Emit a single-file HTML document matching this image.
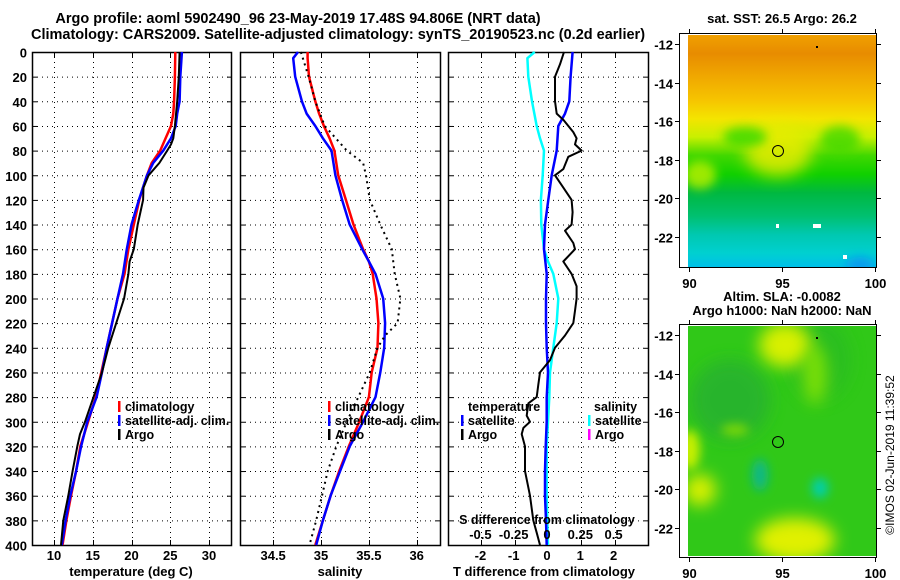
<!DOCTYPE html>
<html><head><meta charset="utf-8">
<style>
html,body{margin:0;padding:0;background:#fff;}
svg{display:block;font-family:"Liberation Sans",sans-serif;font-weight:bold;}
text{fill:#000;}
</style></head>
<body>
<svg id="fig" width="900" height="580" viewBox="0 0 900 580" xmlns="http://www.w3.org/2000/svg">
<defs>
<linearGradient id="sstGrad" x1="0" y1="0" x2="0" y2="1">
<stop offset="0" stop-color="#f0a000"/>
<stop offset="0.08" stop-color="#e88c00"/>
<stop offset="0.18" stop-color="#f0a800"/>
<stop offset="0.28" stop-color="#f6c400"/>
<stop offset="0.36" stop-color="#f4e400"/>
<stop offset="0.44" stop-color="#c8f000"/>
<stop offset="0.52" stop-color="#40d800"/>
<stop offset="0.60" stop-color="#10d000"/>
<stop offset="0.68" stop-color="#00b840"/>
<stop offset="0.78" stop-color="#00c070"/>
<stop offset="0.86" stop-color="#00c8b0"/>
<stop offset="0.94" stop-color="#00d0d0"/>
<stop offset="1" stop-color="#00c0e8"/>
</linearGradient>
<filter id="blur6" x="-100%" y="-100%" width="300%" height="300%"><feGaussianBlur stdDeviation="8"/></filter>
<filter id="blur4" x="-100%" y="-100%" width="300%" height="300%"><feGaussianBlur stdDeviation="5"/></filter>
<clipPath id="clipTop"><rect x="688" y="35" width="188" height="232"/></clipPath>
<clipPath id="clipBot"><rect x="688" y="326" width="188" height="230"/></clipPath>
</defs>

<text x="298" y="23" font-size="14.5" text-anchor="middle">Argo profile: aoml 5902490_96 23-May-2019 17.48S 94.806E (NRT data)</text>
<text x="338" y="39" font-size="14.5" text-anchor="middle">Climatology: CARS2009. Satellite-adjusted climatology: synTS_20190523.nc (0.2d earlier)</text>

<g id="p1"></g>
<g id="p2"></g>
<g id="p3"></g>

<!-- SST map -->
<g>
<text x="782" y="23" font-size="13" text-anchor="middle">sat. SST: 26.5 Argo: 26.2</text>
<g clip-path="url(#clipTop)">
<rect x="688" y="35" width="188" height="232" fill="url(#sstGrad)"/>
<ellipse cx="778" cy="150" rx="34" ry="26" fill="#e8ec00" filter="url(#blur6)" opacity="0.85"/>
<ellipse cx="700" cy="175" rx="16" ry="14" fill="#c0f000" filter="url(#blur4)" opacity="0.8"/>
<ellipse cx="745" cy="137" rx="22" ry="10" fill="#30d800" filter="url(#blur4)" opacity="0.8"/>
<ellipse cx="840" cy="140" rx="20" ry="14" fill="#40d800" filter="url(#blur4)" opacity="0.8"/>
<ellipse cx="860" cy="265" rx="14" ry="8" fill="#1090f0" filter="url(#blur4)" opacity="0.8"/>
<rect x="776" y="224" width="3" height="4" fill="#fff"/>
<rect x="813" y="224" width="8" height="4" fill="#fff"/>
<rect x="843" y="255" width="4" height="4" fill="#fff"/>
<rect x="816" y="46" width="2" height="2" fill="#000"/>
</g>
<circle cx="778" cy="151" r="5.5" fill="none" stroke="#000" stroke-width="1"/>
<rect x="679.5" y="33.5" width="197" height="234" fill="none" stroke="#000" stroke-width="1"/>
<g id="sstAxes"></g>
</g>

<!-- SLA map -->
<g>
<text x="782" y="301" font-size="13" text-anchor="middle">Altim. SLA: -0.0082</text>
<text x="782" y="315" font-size="13" text-anchor="middle">Argo h1000: NaN h2000: NaN</text>
<g clip-path="url(#clipBot)">
<rect x="688" y="326" width="188" height="230" fill="#30c818"/>
<ellipse cx="730" cy="400" rx="40" ry="40" fill="#28b030" filter="url(#blur6)" opacity="0.8"/>
<ellipse cx="820" cy="360" rx="30" ry="40" fill="#28b828" filter="url(#blur6)" opacity="0.6"/>
<ellipse cx="785" cy="345" rx="26" ry="22" fill="#d8f000" filter="url(#blur6)"/>
<ellipse cx="815" cy="375" rx="12" ry="30" fill="#90e800" filter="url(#blur6)" opacity="0.8"/>
<ellipse cx="795" cy="540" rx="40" ry="22" fill="#e0f000" filter="url(#blur6)"/>
<ellipse cx="700" cy="490" rx="16" ry="16" fill="#d8f000" filter="url(#blur6)"/>
<ellipse cx="690" cy="450" rx="10" ry="20" fill="#c8f000" filter="url(#blur4)"/>
<ellipse cx="760" cy="475" rx="8" ry="16" fill="#10b888" filter="url(#blur4)"/>
<ellipse cx="820" cy="488" rx="8" ry="10" fill="#00d0b0" filter="url(#blur4)"/>
<ellipse cx="735" cy="430" rx="14" ry="6" fill="#90e000" filter="url(#blur4)" opacity="0.8"/>
<rect x="816" y="337" width="2" height="2" fill="#000"/>
</g>
<circle cx="778" cy="442" r="5.5" fill="none" stroke="#000" stroke-width="1"/>
<rect x="679.5" y="324.5" width="197" height="233" fill="none" stroke="#000" stroke-width="1"/>
<g id="slaAxes"></g>
</g>

<text transform="translate(894,455) rotate(-90)" font-size="12" font-weight="normal" text-anchor="middle">©IMOS 02-Jun-2019 11:39:52</text>
</svg>

<script>
// ---- data ----
var tempDepth = [0,20,40,50,60,70,80,90,100,120,140,160,180,200,240,260,280,300,320,340,360,380,400];
var tempClim  = [25.65,25.6,25.5,25.4,25.1,24.4,23.7,22.6,22.0,21.0,20.3,19.6,19.1,18.2,16.8,16.1,15.4,14.4,13.4,12.85,12.2,11.6,11.1];
var tempSat   = [26.5,26.3,26.2,25.9,25.7,25.1,24.1,22.8,22.0,20.95,20.0,19.4,18.9,18.2,16.8,16.2,15.5,14.3,13.5,12.85,12.1,11.5,11.0];
var argoDepthT= [0,20,40,60,70,75,80,90,100,110,120,140,160,170,180,200,240,260,280,300,310,320,340,360,380,400];
var tempArgo  = [26.2,26.1,25.9,25.6,25.4,25.1,24.6,23.6,22.2,21.55,21.5,20.8,20.3,19.75,19.6,19.05,17.0,16.2,15.1,14.0,13.36,13.0,12.4,11.85,11.2,10.9];

var salDepth  = [0,5,20,40,50,60,70,80,100,120,140,160,170,180,200,220,240,260,280,300,320,340,360,380,400];
var salClim   = [34.86,34.86,34.875,34.94,34.98,35.03,35.09,35.14,35.18,35.26,35.34,35.44,35.50,35.54,35.58,35.6,35.59,35.53,35.5,35.4,35.29,35.19,35.1,35.02,34.94];
var salSat    = [34.76,34.71,34.73,34.8,34.85,34.94,35.02,35.11,35.15,35.22,35.3,35.43,35.5,35.57,35.65,35.67,35.66,35.62,35.57,35.44,35.3,35.2,35.1,35.02,34.95];
var argoDepthS= [0,20,40,60,80,90,100,120,140,160,180,200,220,230,240,260,280,300,320,340,360,380,400];
var salArgo   = [34.79,34.87,34.94,35.04,35.27,35.44,35.47,35.51,35.62,35.74,35.77,35.83,35.8,35.67,35.59,35.51,35.39,35.27,35.16,35.07,35.01,34.95,34.88];

var diffDepth = [0,20,40,50,60,80,100,120,140,160,180,200,220,240,260,280,300,320,340,360,380,400];
var tDiffSat  = [0.74,0.68,0.64,0.51,0.31,0.26,0.11,0.01,-0.09,-0.12,-0.04,-0.06,-0.06,-0.04,0,-0.04,-0.04,-0.07,-0.09,-0.09,-0.06,-0.04];
var sDiffDepth= [0,5,20,40,60,70,80,100,120,140,160,170,180,200,220,240,260,280,300,320,340,360,380,400];
var sDiffSat  = [-0.1,-0.155,-0.148,-0.12,-0.085,-0.06,-0.03,-0.04,-0.053,-0.05,-0.03,0,0.04,0.077,0.065,0.04,0.015,0.01,0,-0.01,-0.01,-0.01,-0.005,0];
var tDiffArgoDepth = [0,10,20,40,50,55,65,70,75,80,85,95,100,110,120,130,140,145,155,160,170,180,190,200,210,220,230,240,250,260,270,280,285,295,300,305,310,320,340,360,380,390,400];
var tDiffArgo = [0.48,0.36,0.21,0.21,0.26,0.46,0.76,0.86,0.81,1.01,0.61,0.46,0.21,0.46,0.71,0.74,0.71,0.51,0.76,0.81,0.46,0.71,0.86,0.86,0.81,0.76,0.51,0.21,0.06,-0.24,-0.29,-0.34,-0.59,-0.64,-0.54,-0.74,-0.79,-0.69,-0.69,-0.54,-0.44,-0.34,-0.24];

var depthTicks = [0,20,40,60,80,100,120,140,160,180,200,220,240,260,280,300,320,340,360,380,400];
var tempTicks = [10,15,20,25,30];
var salTicks = [34.5,35,35.5,36];
var salTickLabels = ["34.5","35","35.5","36"];
var tdTicks = [-2,-1,0,1,2];
var sdTicks = [-0.5,-0.25,0,0.25,0.5];
var sdTickLabels = ["-0.5","-0.25","0","0.25","0.5"];
var latTicks = [-12,-14,-16,-18,-20,-22];
var lonTicks = [90,95,100];

// ---- helpers ----
var NS="http://www.w3.org/2000/svg";
function mk(tag, attrs, parent){var e=document.createElementNS(NS,tag);for(var k in attrs)e.setAttribute(k,attrs[k]);parent.appendChild(e);return e;}
var TOP=52, BOT=545;
function yD(d){return TOP+d*(BOT-TOP)/400;}
function lin(d0,d1,r0,r1){return function(v){return r0+(v-d0)*(r1-r0)/(d1-d0);};}
var xT = lin(10,30,54,209);
var xS = lin(35,36,321,416.7);
var xTD = lin(0,1,548,581.3);
var xSD = lin(0,0.25,548,581.3);

function panel(g,x0,x1,vx,showY){
  for(var i=0;i<depthTicks.length;i++){
    var y=yD(depthTicks[i])+0.5;
    var l=mk('line',{x1:x0,x2:x1,y1:y,y2:y,stroke:'#000','stroke-width':1,'stroke-dasharray':'1,4'},g);
    
    
    mk('line',{x1:x0,x2:x0+5,y1:y,y2:y,stroke:'#000'},g);
    mk('line',{x1:x1-5,x2:x1,y1:y,y2:y,stroke:'#000'},g);
    if(showY){
      var t=mk('text',{x:27,y:y+5,'font-size':13,'text-anchor':'end'},g);
      
      
      t.textContent=depthTicks[i];
    }
  }
  for(var j=0;j<vx.length;j++){
    var x=Math.round(vx[j])+0.5;
    var v=mk('line',{x1:x,x2:x,y1:TOP,y2:BOT,stroke:'#000','stroke-width':1,'stroke-dasharray':'1,4'},g);
    
    
    mk('line',{x1:x,x2:x,y1:TOP,y2:TOP+5,stroke:'#000'},g);
    mk('line',{x1:x,x2:x,y1:BOT-5,y2:BOT,stroke:'#000'},g);
  }
  var f=mk('rect',{x:x0+0.5,y:TOP+0.5,width:x1-x0-1,height:BOT-TOP,fill:'none',stroke:'#000','stroke-width':1.5},g);
  
  
}
function series(g,xs,ds,fx,color,w,name,dash){
  var pts=[];for(var i=0;i<xs.length;i++)pts.push(fx(xs[i]).toFixed(1)+','+yD(ds[i]).toFixed(1));
  var a={points:pts.join(' '),fill:'none',stroke:color,'stroke-width':w,'stroke-linejoin':'round'};
  if(dash)a['stroke-dasharray']=dash;
  var p=mk('polyline',a,g);
  
  
}
function label(g,x,y,txt,name,anchor,size){
  var t=mk('text',{x:x,y:y,'font-size':size||13,'text-anchor':anchor||'middle'},g);
  
  
  t.textContent=txt;return t;
}
function legend(g,x,y,color,txt,name){
  var r=mk('rect',{x:x,y:y-10,width:2.5,height:11,fill:color},g);
  
  
  label(g,x+7,y,txt,name,'start',12.5);
}

// panel 1
var g1=document.getElementById('p1');
panel(g1,32,232,tempTicks.map(xT),true);
series(g1,tempClim,tempDepth,xT,'#ff0000',2.5,'climatology-temp-line');
series(g1,tempSat,tempDepth,xT,'#0000ff',2.5,'satellite-temp-line');
series(g1,tempArgo,argoDepthT,xT,'#000',2,'argo-temp-line');
for(var i=0;i<tempTicks.length;i++)label(g1,xT(tempTicks[i]),560,String(tempTicks[i]),'temp-tick-label');
label(g1,131,576,'temperature (deg C)','temp-axis-title');
legend(g1,118,411,'#ff0000','climatology','legend-climatology');
legend(g1,118,425,'#0000ff','satellite-adj. clim.','legend-satellite');
legend(g1,118,439,'#000','Argo','legend-argo');

// panel 2
var g2=document.getElementById('p2');
panel(g2,240,441,salTicks.map(xS),false);
series(g2,salClim,salDepth,xS,'#ff0000',2.5,'climatology-salinity-line');
series(g2,salSat,salDepth,xS,'#0000ff',2.5,'satellite-salinity-line');
series(g2,salArgo,argoDepthS,xS,'#000',2,'argo-salinity-line','2,4');
for(var i=0;i<salTicks.length;i++)label(g2,xS(salTicks[i]),560,salTickLabels[i],'salinity-tick-label');
label(g2,340,576,'salinity','salinity-axis-title');
legend(g2,328,411,'#ff0000','climatology','legend-climatology-s');
legend(g2,328,425,'#0000ff','satellite-adj. clim.','legend-satellite-s');
legend(g2,328,439,'#000','Argo','legend-argo-s');

// panel 3
var g3=document.getElementById('p3');
panel(g3,448,649,tdTicks.map(xTD),false);
series(g3,sDiffSat,sDiffDepth,xSD,'#00ffff',2.5,'satellite-s-diff-line');
series(g3,tDiffSat,diffDepth,xTD,'#0000ff',2.5,'satellite-t-diff-line');
series(g3,tDiffArgo,tDiffArgoDepth,xTD,'#000',2,'argo-t-diff-line');
for(var i=0;i<tdTicks.length;i++)label(g3,xTD(tdTicks[i])-1,560,String(tdTicks[i]),'t-diff-tick-label');
label(g3,544,576,'T difference from climatology','t-diff-axis-title');
label(g3,547,524,'S difference from climatology','s-diff-axis-title',undefined,12.5);
for(var i=0;i<sdTicks.length;i++)label(g3,xSD(sdTicks[i])-1,539,sdTickLabels[i],'s-diff-tick-label');
label(g3,468,411,'temperature','legend-temperature-heading','start',12.5);
legend(g3,461,425,'#0000ff','satellite','legend-t-satellite');
legend(g3,461,439,'#000','Argo','legend-t-argo');
label(g3,594,411,'salinity','legend-salinity-heading','start',12.5);
legend(g3,588,425,'#00ffff','satellite','legend-s-satellite');
legend(g3,588,439,'#ff00ff','Argo','legend-s-argo');

// map axes
function mapAxes(id,yTop,yBot,lat12,lat22,name){
  var g=document.getElementById(id);
  var yl=lin(-12,-22,lat12,lat22), xl=lin(90,100,689,875);
  for(var i=0;i<latTicks.length;i++){
    var y=Math.round(yl(latTicks[i]))+0.5;
    mk('line',{x1:675,x2:680,y1:y,y2:y,stroke:'#000'},g);
    mk('line',{x1:876,x2:881,y1:y,y2:y,stroke:'#000'},g);
    label(g,673,y+5,String(latTicks[i]),name+'-lat-label','end');
  }
  for(var j=0;j<lonTicks.length;j++){
    var x=Math.round(xl(lonTicks[j]))+0.5;
    mk('line',{x1:x,x2:x,y1:yTop-4,y2:yTop,stroke:'#000'},g);
    mk('line',{x1:x,x2:x,y1:yBot,y2:yBot+4,stroke:'#000'},g);
    label(g,x,yBot+20,String(lonTicks[j]),name+'-lon-label');
  }
}
mapAxes('sstAxes',33,268,44,237,'sst');
mapAxes('slaAxes',324,558,335,528,'sla');
</script>
</body></html>
